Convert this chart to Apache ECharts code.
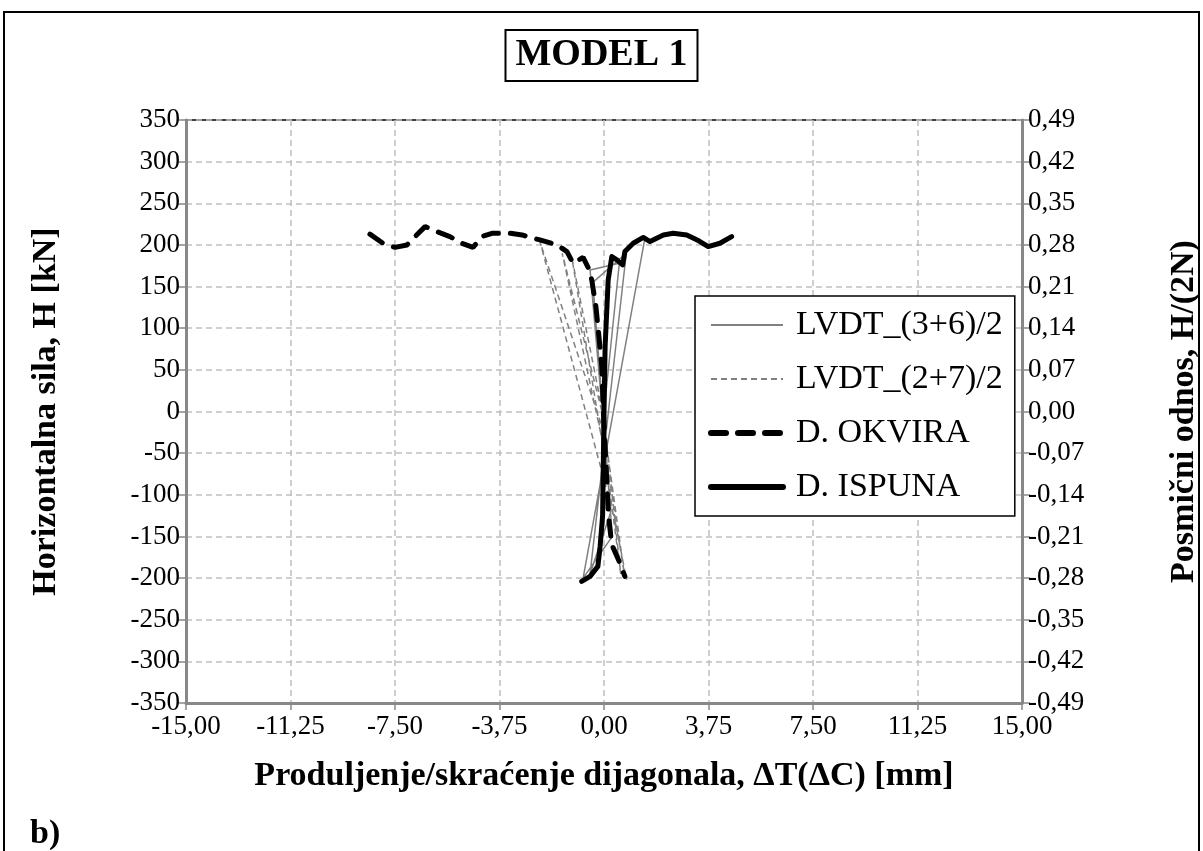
<!DOCTYPE html>
<html>
<head>
<meta charset="utf-8">
<script src="https://cdn.jsdelivr.net/npm/echarts@6/dist/echarts.min.js"></script>
<style>
  html, body { margin: 0; padding: 0; background: #fff; }
  #main { width: 1203px; height: 851px; }
</style>
</head>
<body>
<div id="main"></div>
<script>
// tick settings
var xTicks = [-15, 15, 3.75];
var yTicks = [-350, 350, 50];
var rTicks = [-0.49, 0.49, 0.07];

// LVDT_(3+6)/2
var lvdt36X = [0.00, 0.55, -0.50, 0.25, -0.50, 0.80, -0.40, 0.30, -0.75, 1.45];
var lvdt36Y = [0, 178, 170, -120, -195, 190, 155, -150, -200, 205];

// LVDT_(2+7)/2
var lvdt27X = [-0.05, -1.15, 0.15, 0.60, 0.00, -1.50, 0.10, 0.75, 0.05, -2.30, 0.39, 0.81];
var lvdt27Y = [0, 184, -80, -195, -10, 190, -60, -200, -30, 204, -130, -202];

// D. OKVIRA
var okviraX = [-8.40, -7.93, -7.50, -7.07, -6.78, -6.42, -5.99, -5.53, -5.10, -4.70, -4.38, -4.02,
    -3.37, -2.94, -2.55, -2.30, -1.69, -1.33, -1.11, -0.75, -0.57, -0.44, -0.29, -0.17, -0.08,
    -0.02, 0.08, 0.16, 0.28, 0.57, 0.75];
var okviraY = [213, 202, 197, 200, 210, 222, 216, 210, 202, 197, 210, 214,
    214, 212, 208, 206, 200, 192, 178, 185, 173, 158, 126, 86, 54,
    -2, -70, -125, -160, -182, -198];

// D. ISPUNA
var ispunaX = [-0.80, -0.50, -0.22, -0.14, -0.05, 0.00, 0.04, 0.15, 0.28, 0.46, 0.67, 0.75,
    1.05, 1.41, 1.65, 2.13, 2.48, 2.97, 3.40, 3.74, 4.16, 4.58];
var ispunaY = [-204, -198, -186, -162, -125, -2, 78, 158, 186, 182, 176, 192,
    202, 209, 204, 212, 214, 212, 205, 198, 202, 210];

var legendNames = ['LVDT_(3+6)/2', 'LVDT_(2+7)/2', 'D. OKVIRA', 'D. ISPUNA'];

function pairs(xs, ys) {
    var out = [];
    for (var i = 0; i < xs.length; i++) out.push([xs[i], ys[i]]);
    return out;
}

function comma2(v) {
    return v.toFixed(2).replace('.', ',');
}

var font = 'Liberation Serif';
var gray = '#808080';
var chart = echarts.init(document.getElementById('main'));

var titleStyle = { fontFamily: font, fontSize: 34, fontWeight: 'bold', color: '#000' };
var gridDash = { color: '#c0c0c0', type: [6, 4], width: 1.5 };
var thickDash = [15, 12];

chart.setOption({
    animation: false,
    backgroundColor: '#fff',
    textStyle: { fontFamily: font, color: '#000' },
    title: {
        text: 'MODEL 1',
        left: 'center',
        top: 30,
        padding: [6, 10, 7, 10],
        borderColor: '#000',
        borderWidth: 2,
        textStyle: { fontFamily: font, fontSize: 38, fontWeight: 'bold', color: '#000' }
    },
    graphic: [
        {
            type: 'rect',
            shape: { x: 4, y: 12, width: 1195, height: 850 },
            style: { fill: null, stroke: '#000', lineWidth: 2 },
            silent: true
        },
        {
            type: 'text',
            left: 30,
            top: 817,
            style: { text: 'b)', font: 'bold 34px "Liberation Serif"', fill: '#000' }
        }
    ],
    legend: {
        orient: 'vertical',
        left: 695,
        top: 296,
        padding: [12, 12, 12, 13],
        itemGap: 20,
        itemWidth: 72,
        itemHeight: 14,
        backgroundColor: '#fff',
        borderColor: '#000',
        borderWidth: 1.5,
        itemStyle: { opacity: 0 },
        textStyle: { fontFamily: font, fontSize: 34, color: '#000', padding: [0, 0, 0, 8] },
        data: [
            { name: legendNames[0], lineStyle: { width: 2 } },
            { name: legendNames[1], lineStyle: { width: 2 } },
            { name: legendNames[2], lineStyle: { width: 6 } },
            { name: legendNames[3], lineStyle: { width: 6 } }
        ]
    },
    grid: {
        left: 186,
        right: 181,
        top: 120,
        bottom: 148,
        outerBoundsMode: 'none',
        show: true,
        borderColor: '#000',
        borderWidth: 1.5
    },
    xAxis: {
        type: 'value',
        min: xTicks[0],
        max: xTicks[1],
        interval: xTicks[2],
        name: 'Produljenje/skraćenje dijagonala, ΔT(ΔC) [mm]',
        nameLocation: 'middle',
        nameGap: 56,
        nameTextStyle: titleStyle,
        axisLine: { onZero: false, lineStyle: { color: '#888', width: 3 } },
        axisTick: { length: 7, lineStyle: { color: '#888', width: 1.5 } },
        axisLabel: { fontFamily: font, fontSize: 27, color: '#000', margin: 10, formatter: comma2 },
        splitLine: { lineStyle: gridDash }
    },
    yAxis: [
        {
            type: 'value',
            min: yTicks[0],
            max: yTicks[1],
            interval: yTicks[2],
            name: 'Horizontalna sila, H [kN]',
            nameLocation: 'middle',
            nameGap: 123,
            nameTextStyle: titleStyle,
            axisLine: { show: true, onZero: false, lineStyle: { color: '#888', width: 3 } },
            axisTick: { show: true, length: 8, lineStyle: { color: '#888', width: 1.5 } },
            axisLabel: { fontFamily: font, fontSize: 27, color: '#000', margin: 6 },
            splitLine: { lineStyle: gridDash }
        },
        {
            type: 'value',
            position: 'right',
            min: rTicks[0],
            max: rTicks[1],
            interval: rTicks[2],
            name: 'Posmični odnos, H/(2N)',
            nameLocation: 'middle',
            nameGap: 145,
            nameRotate: 90,
            nameTextStyle: titleStyle,
            axisLine: { show: true, onZero: false, lineStyle: { color: '#888', width: 3 } },
            axisTick: { show: true, length: 8, lineStyle: { color: '#888', width: 1.5 } },
            axisLabel: { fontFamily: font, fontSize: 27, color: '#000', margin: 6, formatter: comma2 },
            splitLine: { show: false }
        }
    ],
    series: [
        {
            name: legendNames[0],
            type: 'line',
            symbol: 'none',
            data: pairs(lvdt36X, lvdt36Y),
            lineStyle: { color: gray, width: 1.5 },
            itemStyle: { color: gray },
            z: 2
        },
        {
            name: legendNames[1],
            type: 'line',
            symbol: 'none',
            data: pairs(lvdt27X, lvdt27Y),
            lineStyle: { color: gray, width: 1.5, type: [6, 4] },
            itemStyle: { color: gray },
            z: 2
        },
        {
            name: legendNames[2],
            type: 'line',
            symbol: 'none',
            data: pairs(okviraX, okviraY),
            lineStyle: { color: '#000', width: 5, type: thickDash, cap: 'round' },
            itemStyle: { color: '#000' },
            z: 3
        },
        {
            name: legendNames[3],
            type: 'line',
            symbol: 'none',
            data: pairs(ispunaX, ispunaY),
            lineStyle: { color: '#000', width: 5, cap: 'round', join: 'round' },
            itemStyle: { color: '#000' },
            z: 4
        }
    ]
});
</script>
</body>
</html>
